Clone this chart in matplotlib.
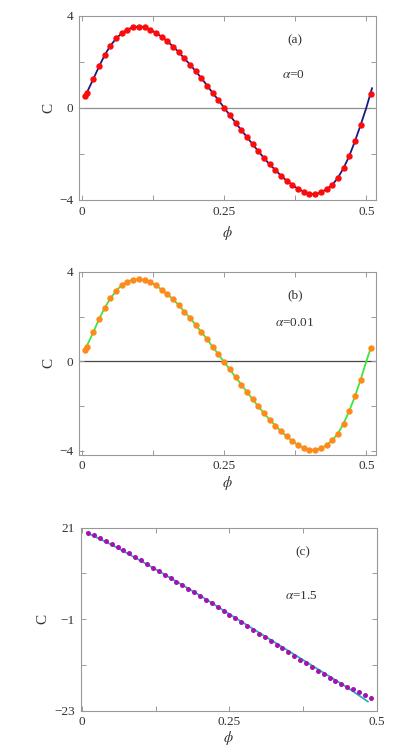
import matplotlib
matplotlib.use('Agg')
import matplotlib.pyplot as plt

plt.rcParams['font.family'] = ['Liberation Serif', 'DejaVu Serif']
plt.rcParams['mathtext.fontset'] = 'stix'

# panel (a), alpha = 0
phi_a = [0.005, 0.008, 0.02, 0.03, 0.04, 0.05, 0.06, 0.07, 0.08, 0.09, 0.10,
         0.11, 0.12, 0.13, 0.14, 0.15, 0.16, 0.17, 0.18, 0.19, 0.20,
         0.21, 0.22, 0.23, 0.24, 0.25, 0.26, 0.27, 0.28, 0.29, 0.30,
         0.31, 0.32, 0.33, 0.34, 0.35, 0.36, 0.37, 0.38, 0.39, 0.40,
         0.41, 0.42, 0.43, 0.44, 0.45, 0.46, 0.47, 0.48, 0.49, 0.508]
C_a = [0.50, 0.63, 1.26, 1.80, 2.30, 2.71, 3.02, 3.25, 3.41, 3.51, 3.54,
       3.51, 3.41, 3.26, 3.10, 2.90, 2.67, 2.43, 2.15, 1.88, 1.59,
       1.29, 0.97, 0.64, 0.33, 0.00, -0.33, -0.65, -0.97, -1.27, -1.59,
       -1.89, -2.19, -2.47, -2.71, -2.96, -3.18, -3.36, -3.54, -3.65, -3.75,
       -3.77, -3.69, -3.55, -3.37, -3.05, -2.63, -2.10, -1.46, -0.75, 0.61]
line_a_x = [0.005, 0.008, 0.02, 0.03, 0.04, 0.05, 0.06, 0.07, 0.08, 0.09, 0.10,
            0.11, 0.12, 0.13, 0.14, 0.15, 0.16, 0.17, 0.18, 0.19, 0.20,
            0.21, 0.22, 0.23, 0.24, 0.25, 0.26, 0.27, 0.28, 0.29, 0.30,
            0.31, 0.32, 0.33, 0.34, 0.35, 0.36, 0.37, 0.38, 0.39, 0.40,
            0.41, 0.42, 0.43, 0.44, 0.45, 0.46, 0.47, 0.48, 0.49, 0.50, 0.51]
line_a_y = [0.50, 0.63, 1.26, 1.80, 2.30, 2.71, 3.02, 3.25, 3.41, 3.51, 3.54,
            3.51, 3.41, 3.26, 3.10, 2.90, 2.67, 2.43, 2.15, 1.88, 1.59,
            1.29, 0.97, 0.64, 0.33, 0.00, -0.33, -0.65, -0.97, -1.27, -1.59,
            -1.89, -2.19, -2.47, -2.71, -2.96, -3.18, -3.36, -3.54, -3.65, -3.75,
            -3.77, -3.69, -3.55, -3.37, -3.05, -2.63, -2.10, -1.46, -0.75, 0.00, 0.85]

# panel (b), alpha = 0.01
phi_b = phi_a
C_b = [0.52, 0.66, 1.31, 1.90, 2.40, 2.82, 3.15, 3.42, 3.57, 3.66, 3.67,
       3.63, 3.54, 3.40, 3.21, 3.01, 2.78, 2.52, 2.22, 1.94, 1.63,
       1.31, 0.99, 0.64, 0.31, -0.03, -0.36, -0.70, -1.04, -1.37, -1.70,
       -2.01, -2.33, -2.61, -2.88, -3.13, -3.36, -3.57, -3.75, -3.87, -3.96,
       -3.96, -3.90, -3.75, -3.54, -3.24, -2.79, -2.22, -1.57, -0.82, 0.61]
line_b_x = line_a_x[:-1] + [0.508]
line_b_y = C_b[:-1] + [0.00, 0.61]

# panel (c), alpha = 1.5
phi_c = [0.01, 0.02, 0.03, 0.04, 0.05, 0.06, 0.07, 0.08, 0.09, 0.10,
         0.11, 0.12, 0.13, 0.14, 0.15, 0.16, 0.17, 0.18, 0.19, 0.20,
         0.21, 0.22, 0.23, 0.24, 0.25, 0.26, 0.27, 0.28, 0.29, 0.30,
         0.31, 0.32, 0.33, 0.34, 0.35, 0.36, 0.37, 0.38, 0.39, 0.40,
         0.41, 0.42, 0.43, 0.44, 0.45, 0.46, 0.47, 0.48, 0.49]
C_c = [19.72, 19.16, 18.52, 17.88, 17.16, 16.44, 15.64, 14.84, 14.04, 13.16,
       12.28, 11.40, 10.52, 9.72, 8.84, 8.04, 7.16, 6.28, 5.48, 4.60,
       3.72, 2.84, 1.92, 1.00, 0.12, -0.80, -1.72, -2.60, -3.52, -4.44,
       -5.32, -6.24, -7.16, -8.04, -8.96, -9.88, -10.76, -11.64, -12.52, -13.40,
       -14.28, -15.08, -15.88, -16.52, -17.20, -17.90, -18.55, -19.20, -19.95]
line_c_x = [0.008, 0.05, 0.10, 0.15, 0.20, 0.25, 0.30, 0.35, 0.40, 0.45, 0.485]
line_c_y = [19.8, 16.9, 13.0, 8.9, 4.7, 0.2, -4.2, -8.6, -13.0, -17.4, -20.8]

xticks = [0, 0.125, 0.25, 0.375, 0.5]
xtick_labels = ['0', '', '0.25', '', '0.5']

fig = plt.figure(figsize=(4.17, 7.5), dpi=100)

panels = [
    dict(rect=[78.7, 16, 375.7, 200], lx=line_a_x, ly=line_a_y, px=phi_a, py=C_a,
         lc='#1a1a86', mc='#ff0a0a', ms=4.6, xlim=(-0.0058, 0.5165), ylim=(-4.02, 4),
         yt=[-4, -2, 0, 2, 4], ytl=['\u22124', '', '0', '', '4'], zero='#8c8c8c',
         tag='(a)', tagpos=(0.728, 0.87), al=r'$\alpha$=0', alpos=(0.723, 0.679),
         ylab=-0.08, xlab=-0.13),
    dict(rect=[78.7, 272, 375.7, 454.7], lx=line_b_x, ly=line_b_y, px=phi_b, py=C_b,
         lc='#3ae83a', mc='#ff8a1c', ms=4.6, xlim=(-0.0058, 0.5165), ylim=(-4.18, 4),
         yt=[-4, -2, 0, 2, 4], ytl=['\u22124', '', '0', '', '4'], zero='#444444',
         tag='(b)', tagpos=(0.728, 0.874), al=r'$\alpha$=0.01', alpos=(0.728, 0.722),
         ylab=-0.08, xlab=-0.106),
    dict(rect=[80.5, 527.7, 376.7, 710.7], lx=line_c_x, ly=line_c_y, px=phi_c, py=C_c,
         lc='#22b4b8', mc='#a312b3', ms=3.6, xlim=(-0.003, 0.5), ylim=(-23, 21),
         yt=[-23, -12, -1, 10, 21], ytl=['\u221223', '', '\u22121', '', '21'], zero=None,
         tag='(c)', tagpos=(0.75, 0.863), al=r'$\alpha$=1.5', alpos=(0.747, 0.628),
         ylab=-0.106, xlab=-0.098),
]

W, H = 417, 750
for p in panels:
    x0, y0, x1, y1 = p['rect']
    ax = fig.add_axes([x0 / W, 1 - y1 / H, (x1 - x0) / W, (y1 - y0) / H])
    if p['zero']:
        ax.axhline(0, color=p['zero'], lw=0.9, zorder=1)
    ax.plot(p['lx'], p['ly'], color=p['lc'], lw=1.3, zorder=2)
    ax.plot(p['px'], p['py'], 'o', color=p['mc'], ms=p['ms'], mec='none', zorder=3)
    ax.set_xlim(*p['xlim'])
    ax.set_ylim(*p['ylim'])
    ax.set_xticks(xticks)
    ax.set_xticklabels(xtick_labels)
    ax.set_yticks(p['yt'])
    ax.set_yticklabels(p['ytl'])
    ax.tick_params(direction='in', top=True, right=True, length=3.5, width=0.7,
                   color='#999999', labelsize=9.5, labelcolor='#333333', pad=4)
    for s in ax.spines.values():
        s.set_color('#999999')
        s.set_linewidth(0.8)
    ax.set_ylabel('C', fontsize=11, color='#333333')
    ax.yaxis.set_label_coords(p['ylab'], 0.5)
    ax.set_xlabel(r'$\phi$', fontsize=10.5, color='#333333')
    ax.xaxis.set_label_coords(0.5, p['xlab'])
    ax.text(*p['tagpos'], p['tag'], transform=ax.transAxes, ha='center', va='center',
            fontsize=9.5, color='#333333')
    ax.text(*p['alpos'], p['al'], transform=ax.transAxes, ha='center', va='center',
            fontsize=9.5, color='#333333')

fig.savefig('out.png', dpi=100)
